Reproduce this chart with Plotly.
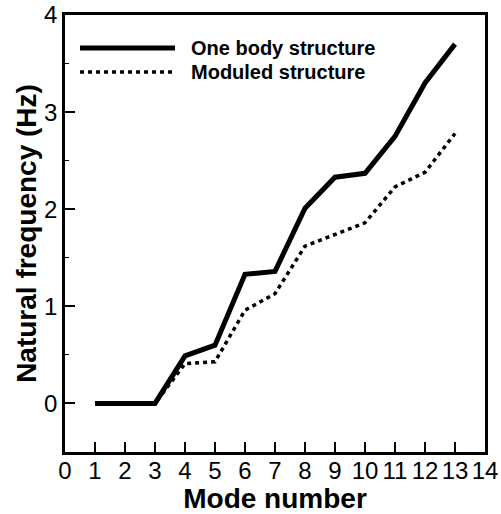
import plotly.graph_objects as go

modes = [1, 2, 3, 4, 5, 6, 7, 8, 9, 10, 11, 12, 13]
one_body = [0, 0, 0, 0.49, 0.60, 1.33, 1.36, 2.01, 2.33, 2.37, 2.75, 3.30, 3.70]
moduled = [0, 0, 0, 0.41, 0.43, 0.96, 1.13, 1.62, 1.74, 1.86, 2.23, 2.38, 2.78]
legend_names = ["One body structure", "Moduled structure"]
x_ticks = list(range(0, 15))
y_ticks = [0, 1, 2, 3, 4]

FONT = "Liberation Sans, Arial, sans-serif"

FW, FH = 501, 514
L, R, T, B = 65, 485, 15, 452
W, H = R - L, B - T

fig = go.Figure()
fig.add_trace(go.Scatter(x=modes, y=one_body, mode="lines", name=legend_names[0],
                         line=dict(color="black", width=5), showlegend=False))
fig.add_trace(go.Scatter(x=modes, y=moduled, mode="lines", name=legend_names[1],
                         line=dict(color="black", width=3.5, dash="4px,4px"), showlegend=False))

def px(x):
    return (x - L) / W
def py(y):
    return (B - y) / H

legend_rows = [(48, dict(color="black", width=5)),
               (72, dict(color="black", width=3.5, dash="4px,4px"))]
for (yy, ln), name in zip(legend_rows, legend_names):
    fig.add_shape(type="line", xref="paper", yref="paper",
                  x0=px(80), x1=px(175), y0=py(yy), y1=py(yy), line=ln)
    fig.add_annotation(xref="paper", yref="paper", x=px(189), y=py(yy),
                       text="<b>%s</b>" % name, showarrow=False,
                       xanchor="left", yanchor="middle",
                       font=dict(family=FONT, size=20, color="black"))

fig.update_layout(
    width=FW, height=FH,
    margin=dict(l=L, r=FW - R, t=T, b=FH - B),
    paper_bgcolor="white", plot_bgcolor="white",
    font=dict(family=FONT, color="black"),
    showlegend=False,
)
fig.update_xaxes(
    range=[0, 14], tickvals=x_ticks, ticktext=[str(v) for v in x_ticks],
    ticks="inside", ticklen=10, tickwidth=2, tickcolor="black",
    showline=True, linewidth=2.5, linecolor="black", mirror=True,
    showgrid=False, zeroline=False, automargin=False,
    ticklabelstandoff=-5, ticklabeloverflow="allow",
    tickfont=dict(family=FONT, size=24, color="black"),
    title=dict(text="<b>Mode number</b>", font=dict(family=FONT, size=28, color="black"), standoff=0),
)
fig.update_yaxes(
    range=[-0.5, 4], tickvals=y_ticks, ticktext=[str(v) for v in y_ticks],
    ticks="inside", ticklen=10, tickwidth=2, tickcolor="black",
    minor=dict(dtick=0.5, tick0=0, ticks="inside", ticklen=4, tickwidth=1, tickcolor="black"),
    showline=True, linewidth=2.5, linecolor="black", mirror=True,
    showgrid=False, zeroline=False, automargin=False, ticklabeloverflow="allow",
    tickfont=dict(family=FONT, size=24, color="black"),
    title=dict(text="<b>Natural frequency (Hz)</b>", font=dict(family=FONT, size=28, color="black"), standoff=0),
)

fig.write_html("out.html", config={"displayModeBar": False},
               post_script="document.body.style.margin='0px';")
